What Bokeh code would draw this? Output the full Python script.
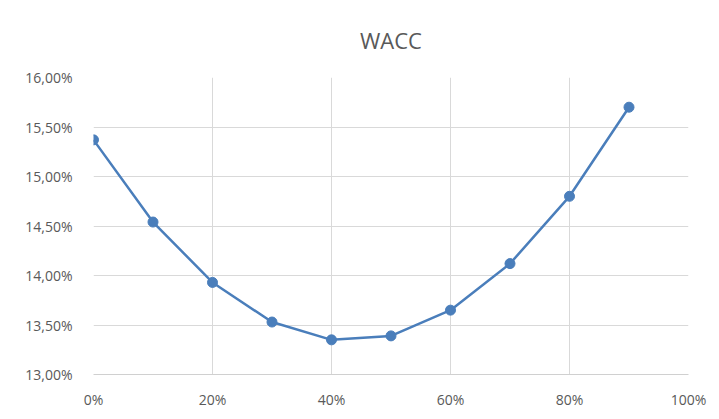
from bokeh.plotting import figure
from bokeh.models import FixedTicker, Range1d
from bokeh.embed import file_html
from bokeh.resources import INLINE

debt_share = [0, 10, 20, 30, 40, 50, 60, 70, 80, 90]
wacc = [15.37, 14.54, 13.93, 13.53, 13.35, 13.39, 13.65, 14.12, 14.80, 15.70]

x_ticks = [0, 20, 40, 60, 80, 100]
x_labels = ["0%", "20%", "40%", "60%", "80%", "100%"]
y_ticks = [13.0, 13.5, 14.0, 14.5, 15.0, 15.5, 16.0]
y_labels = ["13,00%", "13,50%", "14,00%", "14,50%", "15,00%", "15,50%", "16,00%"]

FONT = "Open Sans"
GRAY = "#595959"
LINE = "#4a7ebb"

p = figure(width=711, height=411, output_backend="svg", toolbar_location=None,
           x_range=Range1d(0, 100), y_range=Range1d(13, 16),
           min_border_left=93, min_border_right=23, min_border_top=0, min_border_bottom=35,
           title="WACC")
p.title.align = "center"
p.title.text_font = FONT
p.title.text_font_size = "22px"
p.title.text_font_style = "normal"
p.title.text_color = GRAY
p.title.offset = 0
p.title.standoff = 45
p.title.text_line_height = 1.0

p.outline_line_color = None
p.background_fill_color = "white"
p.border_fill_color = "white"

p.xaxis.ticker = FixedTicker(ticks=x_ticks)
p.xaxis.major_label_overrides = {t: l for t, l in zip(x_ticks, x_labels)}
p.yaxis.ticker = FixedTicker(ticks=y_ticks)
p.yaxis.major_label_overrides = {t: l for t, l in zip(y_ticks, y_labels)}

for ax in (p.xaxis, p.yaxis):
    ax.major_tick_line_color = None
    ax.minor_tick_line_color = None
    ax.major_label_text_font = FONT
    ax.major_label_text_font_size = "14px"
    ax.major_label_text_color = GRAY
p.yaxis.axis_line_color = None
p.xaxis.axis_line_color = "#d0d0d0"
p.xaxis.major_label_standoff = 9
p.yaxis.major_label_standoff = 15

p.xgrid.ticker = FixedTicker(ticks=x_ticks)
p.ygrid.ticker = FixedTicker(ticks=y_ticks)
p.grid.grid_line_color = "#d9d9d9"
p.grid.grid_line_width = 1

p.line(debt_share, wacc, line_color=LINE, line_width=2.5)
p.scatter(debt_share, wacc, size=10, fill_color=LINE, line_color=LINE)

open("out.html", "w").write(file_html(p, INLINE))
